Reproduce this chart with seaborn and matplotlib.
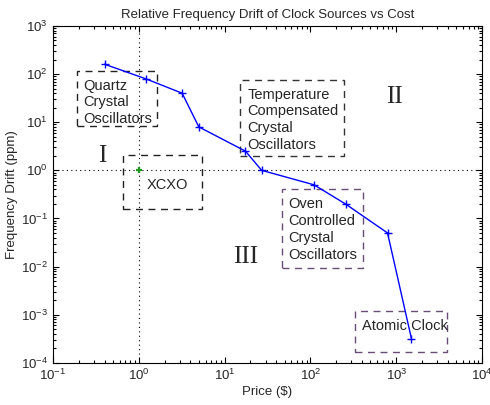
"""Relative frequency drift of clock sources vs cost (log-log)."""

import matplotlib

matplotlib.use("Agg")
import matplotlib.pyplot as plt
import matplotlib.patches as mpatches
from matplotlib.ticker import LogLocator, NullFormatter
import pandas as pd
import seaborn as sns

sns.set_theme(style="white")
plt.rcParams["font.family"] = ["Liberation Sans", "DejaVu Sans"]
plt.rcParams["mathtext.fontset"] = "custom"
plt.rcParams["mathtext.rm"] = "Liberation Sans"

# curve of the clock families, price ($) vs drift (ppm)
price = [0.4, 1.2, 3.2, 5.0, 17.5, 27, 110, 256, 790, 1500]
drift = [160, 80, 40, 8.0, 2.5, 1.0, 0.5, 0.2, 0.05, 3.2e-4]

# single XCXO point
xcxo_price = [1.0]
xcxo_drift = [1.0]

# dashed group boxes
box_labels = ["Quartz\nCrystal\nOscillators", "XCXO",
              "Temperature\nCompensated\nCrystal\nOscillators",
              "Oven\nControlled\nCrystal\nOscillators", "Atomic Clock"]
box_x = [(0.19, 1.62), (0.65, 5.4), (15.3, 248), (46, 413), (334, 3920)]
box_y = [(8.5, 117), (0.156, 2.04), (1.95, 76), (0.0094, 0.40), (1.66e-4, 1.2e-3)]
box_colors = ["#222222", "#222222", "#333333", "#6a4c78", "#6a4c78"]

regions = ["I", "II", "III"]
region_pos = [(0.38, 1.94), (950, 34), (17.5, 0.016)]

df = pd.DataFrame({"price": price, "drift": drift})

fig, ax = plt.subplots(figsize=(4.9, 4.05), dpi=100)
ax.set_xscale("log")
ax.set_yscale("log")
ax.set_xlim(0.1, 1e4)
ax.set_ylim(1e-4, 1e3)

ax.axvline(1, color="black", ls=(0, (1, 3)), lw=0.8)
ax.axhline(1, color="black", ls=(0, (1, 3)), lw=0.8)

sns.lineplot(data=df, x="price", y="drift", sort=False, ax=ax, color="blue",
             lw=1.0, marker="+", markersize=6, markeredgewidth=1.0,
             markeredgecolor="blue")
ax.plot(xcxo_price, xcxo_drift, marker="+", color="#1f9a1f", ms=5, mew=1.6, ls="")

for lab, (x0, x1), (y0, y1), c in zip(box_labels, box_x, box_y, box_colors):
    ax.add_patch(mpatches.Rectangle((x0, y0), x1 - x0, y1 - y0, fill=False,
                                    ec=c, lw=1.0, ls=(0, (5, 4))))
    if lab == "XCXO":
        ax.text(x0 * 1.9, (y0 * y1) ** 0.5 * 0.9, lab, fontsize=10.5,
                va="center", ha="left")
    elif lab == "Atomic Clock":
        ax.text(x0 * 1.2, (y0 * y1) ** 0.5 * 1.3, lab, fontsize=10.5,
                va="center", ha="left")
    else:
        ax.text(x0 * 1.2, y1 / 1.45, lab, fontsize=10.5, va="top", ha="left",
                linespacing=1.25)

for r, (x, y) in zip(regions, region_pos):
    ax.text(x, y, r, fontsize=18, family=["Liberation Serif"],
            ha="center", va="center")

ax.set_title("Relative Frequency Drift of Clock Sources vs Cost", fontsize=9.5)
ax.set_xlabel("Price ($)", fontsize=9.5, labelpad=2)
ax.set_ylabel("Frequency Drift (ppm)", fontsize=9.5, labelpad=2)

for axis in (ax.xaxis, ax.yaxis):
    axis.set_major_locator(LogLocator(base=10, numticks=12))
    axis.set_minor_locator(LogLocator(base=10, subs=range(2, 10), numticks=12))
    axis.set_minor_formatter(NullFormatter())

ax.tick_params(which="both", direction="in", top=True, right=True,
               bottom=True, left=True, labelsize=9.5, width=0.8, color="black")
ax.tick_params(which="major", length=4)
ax.tick_params(which="minor", length=2)
for s in ax.spines.values():
    s.set_color("black")
    s.set_linewidth(0.8)

fig.subplots_adjust(left=0.108, right=0.984, top=0.936, bottom=0.104)
fig.savefig("out.png", dpi=100)
